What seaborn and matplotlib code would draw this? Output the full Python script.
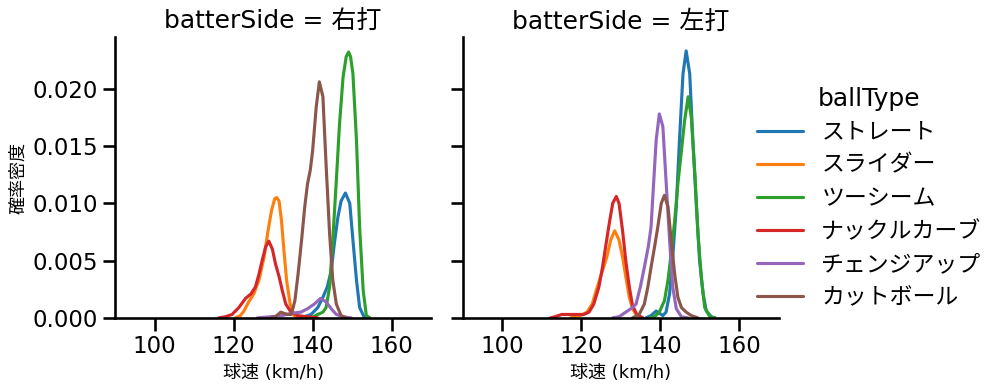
import matplotlib
matplotlib.use("Agg")
import matplotlib.pyplot as plt
import seaborn as sns
import pandas as pd

# Density curves (speed km/h, density)
sides = ["右打", "左打"]
ball_types = ["ストレート", "スライダー", "ツーシーム", "ナックルカーブ", "チェンジアップ", "カットボール"]

# --- 右打 ---
r_straight_x = [137.0, 139.6, 141.3, 142.6, 143.7, 144.7, 145.5, 146.4, 147.2, 148.3, 149.4, 150.2, 151.1, 151.9, 153.0, 154.0]
r_straight_y = [0.0, 0.0003, 0.0009, 0.0018, 0.0027, 0.0041, 0.0065, 0.0088, 0.0102, 0.0109, 0.0100, 0.0068, 0.0033, 0.0009, 0.0001, 0.0]
r_slider_x = [120.4, 121.7, 122.6, 123.8, 125.1, 126.4, 127.7, 128.7, 129.6, 130.4, 130.9, 131.5, 132.1, 132.8, 133.4, 134.3, 135.3, 136.3]
r_slider_y = [0.0, 0.0002, 0.0006, 0.0014, 0.0021, 0.0033, 0.0053, 0.0076, 0.0094, 0.0104, 0.0105, 0.0102, 0.0085, 0.0056, 0.0033, 0.0012, 0.0002, 0.0]
r_twoseam_x = [139.6, 141.3, 142.6, 143.4, 144.3, 145.1, 146.0, 146.8, 147.7, 148.5, 149.1, 149.6, 150.2, 151.1, 151.9, 152.8, 153.6, 154.5]
r_twoseam_y = [0.0, 0.0003, 0.0005, 0.0009, 0.0027, 0.0068, 0.0120, 0.0169, 0.0210, 0.0228, 0.0232, 0.0228, 0.0213, 0.0155, 0.0079, 0.0024, 0.0002, 0.0]
r_curve_x = [116.2, 117.9, 119.6, 121.3, 123.0, 124.4, 125.5, 126.4, 127.2, 128.1, 128.9, 129.8, 130.6, 131.5, 132.3, 133.2, 134.5, 136.2, 138.7, 141.3]
r_curve_y = [0.0, 0.0001, 0.0003, 0.0009, 0.0017, 0.0021, 0.0027, 0.0038, 0.0050, 0.0062, 0.0067, 0.0060, 0.0047, 0.0036, 0.0024, 0.0012, 0.0005, 0.0002, 0.0001, 0.0]
r_change_x = [126.0, 129.4, 132.3, 134.5, 137.0, 138.7, 140.4, 142.0, 143.4, 144.7, 146.0, 147.7, 149.8]
r_change_y = [0.0, 0.0001, 0.0002, 0.0004, 0.0005, 0.0008, 0.0012, 0.0017, 0.0014, 0.0008, 0.0003, 0.0001, 0.0]
r_cutter_x = [129.4, 130.6, 131.9, 133.6, 134.6, 135.5, 136.3, 137.2, 138.0, 138.7, 139.4, 140.0, 140.9, 141.7, 142.6, 143.4, 144.3, 145.1, 146.0, 147.2, 148.5]
r_cutter_y = [0.0, 0.0001, 0.0005, 0.0003, 0.0003, 0.0015, 0.0038, 0.0068, 0.0097, 0.0117, 0.0129, 0.0146, 0.0184, 0.0206, 0.0193, 0.0134, 0.0073, 0.0033, 0.0012, 0.0002, 0.0]

# --- 左打 ---
l_straight_x = [136.4, 137.7, 139.0, 140.7, 141.5, 142.4, 143.2, 144.1, 144.9, 145.8, 146.6, 147.5, 148.3, 149.2, 150.0, 150.9, 151.7, 153.0, 153.9]
l_straight_y = [0.0, 0.0002, 0.0006, 0.0002, 0.0005, 0.0021, 0.0053, 0.0097, 0.0155, 0.0213, 0.0233, 0.0213, 0.0155, 0.0097, 0.0050, 0.0021, 0.0006, 0.0001, 0.0]
l_slider_x = [117.3, 119.8, 121.5, 122.8, 124.1, 125.4, 126.5, 127.5, 128.5, 129.6, 130.5, 131.3, 132.2, 133.0, 134.1, 135.6]
l_slider_y = [0.0, 0.0002, 0.0005, 0.0012, 0.0027, 0.0041, 0.0053, 0.0068, 0.0076, 0.0068, 0.0053, 0.0036, 0.0018, 0.0008, 0.0002, 0.0]
l_twoseam_x = [137.3, 138.6, 139.8, 141.1, 142.0, 142.8, 143.7, 144.5, 145.4, 146.2, 147.1, 147.9, 148.8, 149.6, 150.5, 151.3, 152.6, 153.9]
l_twoseam_y = [0.0, 0.0001, 0.0005, 0.0015, 0.0033, 0.0056, 0.0085, 0.0117, 0.0146, 0.0172, 0.0193, 0.0175, 0.0126, 0.0073, 0.0033, 0.0009, 0.0001, 0.0]
l_curve_x = [112.2, 113.4, 115.1, 116.4, 119.0, 120.7, 122.0, 123.2, 124.5, 125.4, 126.2, 127.1, 128.0, 128.9, 129.6, 130.5, 131.3, 132.2, 133.0, 134.1, 135.6]
l_curve_y = [0.0, 0.0001, 0.0003, 0.0003, 0.0003, 0.0003, 0.0005, 0.0012, 0.0027, 0.0044, 0.0062, 0.0082, 0.0100, 0.0106, 0.0100, 0.0076, 0.0050, 0.0027, 0.0011, 0.0003, 0.0]
l_change_x = [127.9, 129.6, 131.3, 132.6, 133.9, 135.0, 136.0, 137.0, 137.7, 138.4, 139.0, 139.8, 140.7, 141.5, 142.4, 143.2, 144.1, 145.4, 147.1]
l_change_y = [0.0, 0.0001, 0.0005, 0.0008, 0.0012, 0.0027, 0.0044, 0.0062, 0.0079, 0.0120, 0.0155, 0.0178, 0.0167, 0.0120, 0.0068, 0.0027, 0.0008, 0.0001, 0.0]
l_cutter_x = [133.0, 134.7, 136.0, 136.9, 137.7, 138.6, 139.4, 140.3, 141.1, 142.0, 142.8, 143.7, 144.5, 145.4, 146.6, 147.9, 149.6]
l_cutter_y = [0.0, 0.0003, 0.0012, 0.0027, 0.0044, 0.0062, 0.0079, 0.0100, 0.0107, 0.0097, 0.0068, 0.0038, 0.0018, 0.0009, 0.0005, 0.0002, 0.0]

curves = {
    "右打": [(r_straight_x, r_straight_y), (r_slider_x, r_slider_y), (r_twoseam_x, r_twoseam_y),
            (r_curve_x, r_curve_y), (r_change_x, r_change_y), (r_cutter_x, r_cutter_y)],
    "左打": [(l_straight_x, l_straight_y), (l_slider_x, l_slider_y), (l_twoseam_x, l_twoseam_y),
            (l_curve_x, l_curve_y), (l_change_x, l_change_y), (l_cutter_x, l_cutter_y)],
}

rows = []
for side in sides:
    for bt, (xs, ys) in zip(ball_types, curves[side]):
        for x, y in zip(xs, ys):
            rows.append({"batterSide": side, "ballType": bt, "speed": x, "density": y})
df = pd.DataFrame(rows)

sns.set_theme(context="talk", style="ticks", palette="tab10",
              rc={"axes.edgecolor": "black", "text.color": "black", "axes.labelcolor": "black",
                  "xtick.color": "black", "ytick.color": "black"})
plt.rcParams["font.family"] = ["DejaVu Sans", "Noto Sans CJK JP"]

g = sns.relplot(
    data=df, x="speed", y="density", hue="ballType", col="batterSide",
    hue_order=ball_types, col_order=sides, kind="line", estimator=None,
    sort=True, height=3.9, aspect=1.0, linewidth=2.25,
)
g.figure.set_size_inches(10.02, 3.91)
g.figure.subplots_adjust(left=0.115, right=0.777, bottom=0.187, top=0.905, wspace=0.10)
g.set(xlim=(90, 170), ylim=(0, 0.0245), xticks=[100, 120, 140, 160],
      yticks=[0, 0.005, 0.010, 0.015, 0.020])
for ax in g.axes.flat:
    ax.set_xlabel("球速 (km/h)", fontsize=13)
    ax.yaxis.set_major_formatter(matplotlib.ticker.FormatStrFormatter("%.3f"))
    for line in ax.get_lines():
        line.set_solid_joinstyle("round")
g.axes.flat[0].set_ylabel("確率密度", fontsize=13)
sns.move_legend(g, "center left", bbox_to_anchor=(0.735, 0.494), frameon=False,
                labelspacing=0.44)

plt.savefig("out.png", dpi=100)
